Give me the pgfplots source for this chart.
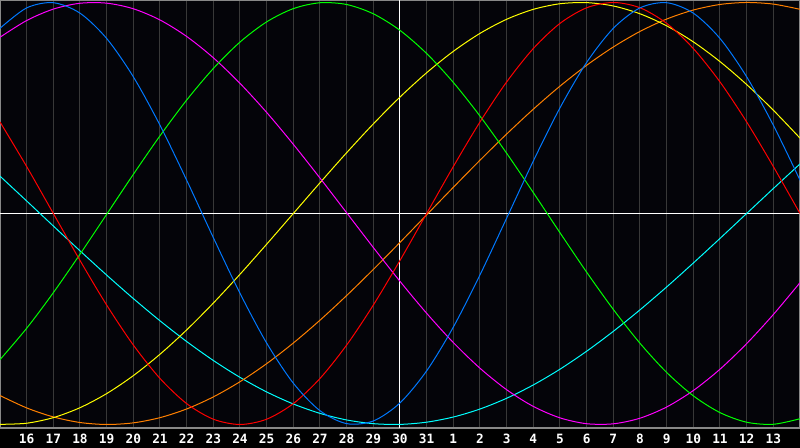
\documentclass[border=0pt]{standalone}
\usepackage{fontspec}
\setmonofont{DejaVu Sans Mono}
\usepackage{pgfplots}
\pgfplotsset{compat=1.18}
\definecolor{bg}{RGB}{4,4,9}
\definecolor{gridc}{RGB}{56,56,56}
\definecolor{framec}{RGB}{136,136,136}
\definecolor{cblue}{RGB}{0,120,255}
\definecolor{corange}{RGB}{255,128,0}
\definecolor{ccyan}{RGB}{0,255,255}
\definecolor{cmag}{RGB}{255,0,255}
\definecolor{cyel}{RGB}{255,255,0}
\definecolor{cgreen}{RGB}{0,255,0}
\definecolor{cred}{RGB}{255,0,0}
\definecolor{cwhite}{RGB}{255,255,255}
\begin{document}
\begin{tikzpicture}
\fill[black] (0,0) rectangle (400pt,224pt);
\useasboundingbox (0,0) rectangle (400pt,224pt);
\begin{axis}[
  at={(0pt,10pt)}, anchor=south west,
  scale only axis, width=400pt, height=214pt,
  xmin=0, xmax=30, ymin=-1.0166, ymax=1.0118,
  axis background/.style={fill=bg},
  axis line style={framec, line width=0.7pt},
  xtick={1,...,29},
  xticklabels={16,17,18,19,20,21,22,23,24,25,26,27,28,29,30,31,1,2,3,4,5,6,7,8,9,10,11,12,13},
  ytick=\empty,
  major tick length=0pt,
  xmajorgrids,
  major grid style={gridc, line width=0.5pt},
  xticklabel style={anchor=center, yshift=-5.5pt, inner sep=0pt, text=cwhite,
    font=\ttfamily\bfseries\fontsize{6.4}{7}\selectfont},
  clip=true,
  every axis plot/.append style={line width=0.5pt},
]
\addplot[cwhite] coordinates {(15,-1.1) (15,1.1)};
\addplot[cwhite] coordinates {(0,0) (30,0)};
% cyan (53)
\addplot[ccyan, smooth] coordinates {
(0,0.1769)(1,0.0593)(2,-0.0593)(3,-0.1769)(4,-0.2920)(5,-0.4031)(6,-0.5086)(7,-0.6068)(8,-0.6966)(9,-0.7766)(10,-0.8457)(11,-0.9028)(12,-0.9473)(13,-0.9785)(14,-0.9961)(15,-0.9996)(16,-0.9890)(17,-0.9646)(18,-0.9267)(19,-0.8757)(20,-0.8125)(21,-0.7379)(22,-0.6527)(23,-0.5585)(24,-0.4566)(25,-0.3482)(26,-0.2348)(27,-0.1182)(28,0.0000)(29,0.1182)(30,0.2348)};
% orange (48)
\addplot[corange, smooth] coordinates {
(0,-0.8628)(1,-0.9214)(2,-0.9642)(3,-0.9906)(4,-1.0000)(5,-0.9923)(6,-0.9676)(7,-0.9264)(8,-0.8693)(9,-0.7973)(10,-0.7117)(11,-0.6139)(12,-0.5057)(13,-0.3888)(14,-0.2651)(15,-0.1370)(16,-0.0065)(17,0.1240)(18,0.2525)(19,0.3766)(20,0.4943)(21,0.6036)(22,0.7024)(23,0.7891)(24,0.8628)(25,0.9214)(26,0.9642)(27,0.9906)(28,1.0000)(29,0.9923)(30,0.9676)};
% yellow (43)
\addplot[cyel, smooth] coordinates {
(0,-0.9993)(1,-0.9940)(2,-0.9675)(3,-0.9204)(4,-0.8536)(5,-0.7685)(6,-0.6671)(7,-0.5518)(8,-0.4246)(9,-0.2881)(10,-0.1456)(11,0.0000)(12,0.1456)(13,0.2881)(14,0.4246)(15,0.5518)(16,0.6671)(17,0.7685)(18,0.8536)(19,0.9204)(20,0.9675)(21,0.9940)(22,0.9993)(23,0.9834)(24,0.9464)(25,0.8893)(26,0.8133)(27,0.7198)(28,0.6111)(29,0.4894)(30,0.3572)};
% magenta (38)
\addplot[cmag, smooth] coordinates {
(0,0.8353)(1,0.9145)(2,0.9686)(3,0.9963)(4,0.9968)(5,0.9702)(6,0.9171)(7,0.8390)(8,0.7380)(9,0.6167)(10,0.4789)(11,0.3278)(12,0.1678)(13,0.0033)(14,-0.1613)(15,-0.3215)(16,-0.4730)(17,-0.6117)(18,-0.7334)(19,-0.8353)(20,-0.9145)(21,-0.9686)(22,-0.9963)(23,-0.9968)(24,-0.9702)(25,-0.9171)(26,-0.8390)(27,-0.7380)(28,-0.6167)(29,-0.4789)(30,-0.3278)};
% green (33)
\addplot[cgreen, smooth] coordinates {
(0,-0.6927)(1,-0.5440)(2,-0.3753)(3,-0.1931)(4,-0.0038)(5,0.1855)(6,0.3681)(7,0.5375)(8,0.6871)(9,0.8124)(10,0.9081)(11,0.9709)(12,0.9987)(13,0.9904)(14,0.9463)(15,0.8679)(16,0.7580)(17,0.6211)(18,0.4616)(19,0.2854)(20,0.0988)(21,-0.0913)(22,-0.2782)(23,-0.4548)(24,-0.6151)(25,-0.7533)(26,-0.8642)(27,-0.9437)(28,-0.9893)(29,-0.9990)(30,-0.9727)};
% red (28)
\addplot[cred, smooth] coordinates {
(0,0.4339)(1,0.2225)(2,0)(3,-0.2225)(4,-0.4339)(5,-0.6235)(6,-0.7818)(7,-0.9010)(8,-0.9749)(9,-1)(10,-0.9749)(11,-0.9010)(12,-0.7818)(13,-0.6235)(14,-0.4339)(15,-0.2225)(16,0)(17,0.2225)(18,0.4339)(19,0.6235)(20,0.7818)(21,0.9010)(22,0.9749)(23,1)(24,0.9749)(25,0.9010)(26,0.7818)(27,0.6235)(28,0.4339)(29,0.2225)(30,0)};
% blue (23)
\addplot[cblue, smooth] coordinates {
(0,0.8777)(1,0.9744)(2,0.9989)(3,0.9494)(4,0.8294)(5,0.6478)(6,0.4183)(7,0.1578)(8,-0.1144)(9,-0.3783)(10,-0.6141)(11,-0.8042)(12,-0.9347)(13,-0.9959)(14,-0.9833)(15,-0.8977)(16,-0.7457)(17,-0.5383)(18,-0.2908)(19,-0.0218)(20,0.2487)(21,0.5007)(22,0.7160)(23,0.8776)(24,0.9744)(25,0.9989)(26,0.9494)(27,0.8294)(28,0.6478)(29,0.4183)(30,0.1578)};
\end{axis}
\end{tikzpicture}
\end{document}
